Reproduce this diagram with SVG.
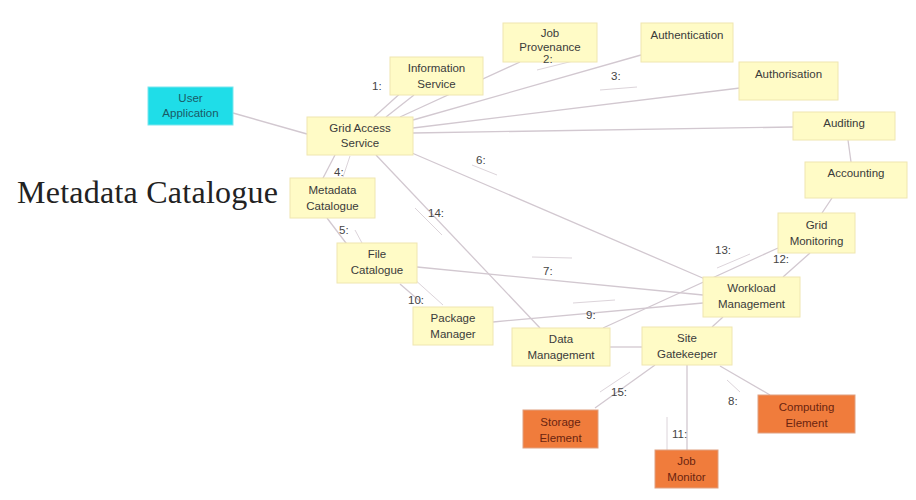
<svg xmlns="http://www.w3.org/2000/svg" width="916" height="500" viewBox="0 0 916 500">
<style>
.n rect{fill:#fffbc6;stroke:#efe6b0;stroke-width:1}
.n text{font-family:"Liberation Sans",Arial,sans-serif;font-size:11.5px;fill:#3a3a3a;text-anchor:middle}
.c rect{fill:#f07c3c;stroke:#e0a080;stroke-width:1}
.c text{fill:#6a2410}
.u rect{fill:#1fdde8;stroke:#7ae6ee}
.u text{fill:#1a5a66}
#conn line{stroke:#d2c8d0;stroke-width:1.3}
#conn line.s{stroke:#dcd4da;stroke-width:1}
.lbl{font-family:"Liberation Sans",Arial,sans-serif;font-size:11.5px;fill:#444}
</style>
<rect width="916" height="500" fill="#fff"/>
<text x="17" y="203" font-family="Liberation Serif,'Times New Roman',serif" font-size="32" fill="#222" textLength="261">Metadata Catalogue</text>
<g id="conn">
<line x1="233" y1="113" x2="307" y2="134"/>
<line x1="374" y1="117" x2="404" y2="90"/>
<line x1="386" y1="117" x2="414" y2="95"/>
<line x1="400" y1="117" x2="520" y2="62"/>
<line class="s" x1="537" y1="70" x2="577" y2="60"/>
<line x1="413" y1="120" x2="641" y2="55"/>
<line class="s" x1="600" y1="90" x2="637" y2="87"/>
<line x1="413" y1="128" x2="740" y2="88"/>
<line x1="413" y1="133" x2="793" y2="127"/>
<line x1="848" y1="140" x2="851" y2="162"/>
<line x1="832" y1="198" x2="822" y2="213"/>
<line x1="405" y1="150" x2="705" y2="279"/>
<line class="s" x1="472" y1="165" x2="497" y2="175"/>
<line x1="335" y1="155" x2="322" y2="180"/>
<line class="s" x1="350" y1="156" x2="343" y2="177"/>
<line x1="376" y1="155" x2="540" y2="328"/>
<line class="s" x1="415" y1="208" x2="442" y2="235"/>
<line x1="327" y1="218" x2="349" y2="247"/>
<line class="s" x1="355" y1="230" x2="362" y2="243"/>
<line x1="417" y1="267" x2="703" y2="295"/>
<line class="s" x1="532" y1="257" x2="572" y2="258"/>
<line x1="400" y1="284" x2="422" y2="303"/>
<line class="s" x1="413" y1="278" x2="443" y2="305"/>
<line x1="493" y1="322" x2="703" y2="303"/>
<line class="s" x1="573" y1="303" x2="615" y2="300"/>
<line x1="603" y1="328" x2="778" y2="248"/>
<line class="s" x1="717" y1="268" x2="750" y2="254"/>
<line x1="783" y1="277" x2="810" y2="253"/>
<line x1="610" y1="347" x2="642" y2="347"/>
<line x1="723" y1="317" x2="712" y2="327"/>
<line x1="655" y1="365" x2="595" y2="408"/>
<line class="s" x1="630" y1="372" x2="600" y2="392"/>
<line x1="687" y1="365" x2="687" y2="450"/>
<line class="s" x1="667" y1="417" x2="667" y2="450"/>
<line x1="720" y1="366" x2="770" y2="395"/>
<line class="s" x1="727" y1="380" x2="740" y2="392"/>
</g>
<g id="user-application" class="n u"><rect x="148" y="87" width="85" height="38"/><text x="190.5" y="102">User</text><text x="190.5" y="117">Application</text></g>
<g id="information-service" class="n"><rect x="390" y="57" width="93" height="38"/><text x="436.5" y="72">Information</text><text x="436.5" y="88">Service</text></g>
<g id="grid-access-service" class="n"><rect x="307" y="117" width="106" height="38"/><text x="360" y="132">Grid Access</text><text x="360" y="147">Service</text></g>
<g id="job-provenance" class="n"><rect x="503" y="23" width="94" height="39"/><text x="550" y="37">Job</text><text x="550" y="51">Provenance</text></g>
<g id="authentication" class="n"><rect x="641" y="23" width="92" height="39"/><text x="687" y="39">Authentication</text></g>
<g id="authorisation" class="n"><rect x="739" y="62" width="99" height="38"/><text x="788.5" y="78">Authorisation</text></g>
<g id="auditing" class="n"><rect x="793" y="112" width="102" height="28"/><text x="844" y="127">Auditing</text></g>
<g id="accounting" class="n"><rect x="805" y="162" width="102" height="36"/><text x="856" y="177">Accounting</text></g>
<g id="metadata-catalogue" class="n"><rect x="290" y="178" width="85" height="40"/><text x="332.5" y="194">Metadata</text><text x="332.5" y="210">Catalogue</text></g>
<g id="file-catalogue" class="n"><rect x="337" y="243" width="80" height="40"/><text x="377" y="258">File</text><text x="377" y="274">Catalogue</text></g>
<g id="grid-monitoring" class="n"><rect x="778" y="213" width="77" height="40"/><text x="816.5" y="229">Grid</text><text x="816.5" y="245">Monitoring</text></g>
<g id="workload-management" class="n"><rect x="703" y="277" width="97" height="40"/><text x="751.5" y="292">Workload</text><text x="751.5" y="308">Management</text></g>
<g id="package-manager" class="n"><rect x="413" y="307" width="80" height="38"/><text x="453" y="322">Package</text><text x="453" y="338">Manager</text></g>
<g id="data-management" class="n"><rect x="512" y="328" width="98" height="38"/><text x="561" y="343">Data</text><text x="561" y="359">Management</text></g>
<g id="site-gatekeeper" class="n"><rect x="642" y="327" width="90" height="38"/><text x="687" y="342">Site</text><text x="687" y="358">Gatekeeper</text></g>
<g id="storage-element" class="n c"><rect x="523" y="410" width="75" height="38"/><text x="560.5" y="426">Storage</text><text x="560.5" y="442">Element</text></g>
<g id="job-monitor" class="n c"><rect x="655" y="450" width="63" height="38"/><text x="686.5" y="465">Job</text><text x="686.5" y="481">Monitor</text></g>
<g id="computing-element" class="n c"><rect x="758" y="395" width="97" height="38"/><text x="806.5" y="411">Computing</text><text x="806.5" y="427">Element</text></g>
<g id="conn-labels">
<text class="lbl" x="372" y="90">1:</text>
<text class="lbl" x="543" y="63">2:</text>
<text class="lbl" x="611" y="80">3:</text>
<text class="lbl" x="334" y="176">4:</text>
<text class="lbl" x="339" y="234">5:</text>
<text class="lbl" x="476" y="164">6:</text>
<text class="lbl" x="543" y="275">7:</text>
<text class="lbl" x="728" y="405">8:</text>
<text class="lbl" x="586" y="319">9:</text>
<text class="lbl" x="408" y="304">10:</text>
<text class="lbl" x="672" y="438">11:</text>
<text class="lbl" x="773" y="263">12:</text>
<text class="lbl" x="715" y="254">13:</text>
<text class="lbl" x="428" y="217">14:</text>
<text class="lbl" x="611" y="396">15:</text>
</g>
</svg>
